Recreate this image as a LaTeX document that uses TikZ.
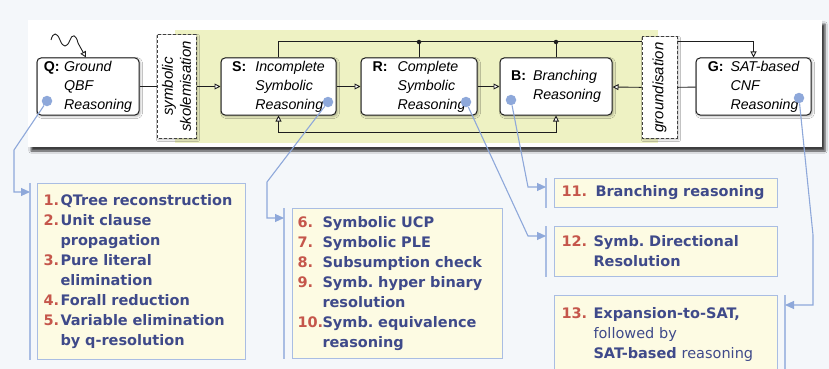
\documentclass[tikz,border=0pt]{standalone}
\usepackage{fontspec}
\setmainfont{Liberation Sans}
\newfontfamily\listfont{DejaVu Sans}
\usepackage{array}
\usepackage{xcolor}
\usepackage{tikz}
\usetikzlibrary{arrows.meta,backgrounds,calc,positioning,shadows.blur}
\definecolor{pagebg}{HTML}{F4F7FA}
\definecolor{zonegreen}{HTML}{EEF2C3}
\definecolor{hint}{HTML}{8EA8DA}
\definecolor{noteback}{HTML}{FDFBE3}
\definecolor{noteline}{HTML}{A9BDE3}
\definecolor{numred}{HTML}{C5564B}
\definecolor{notetext}{HTML}{3F4A8A}
\definecolor{ink}{HTML}{1E1E1E}
\frenchspacing
\newcommand{\numlbl}[2][17pt]{\makebox[#1][l]{\color{numred}#2}}
\newcommand{\stagelbl}[3]{\raisebox{-2pt}{\begin{tabular}{@{}l@{\hspace{#2}}>{\itshape}l@{}}\textbf{#1:}&#3\end{tabular}}}
\tikzset{
  opentip/.style={-{Triangle[length=6pt,width=6pt,fill=white]}},
  flow/.style={draw=ink,line width=0.9pt},
  panel/.style={fill=white,minimum width=794pt,minimum height=127pt,inner sep=0pt,
                blur shadow={shadow xshift=3pt,shadow yshift=-4pt,shadow opacity=75,shadow blur steps=4}},
  zone/.style={fill=zonegreen,minimum width=483pt,minimum height=113pt,inner sep=0pt},
  stage/.style={draw=ink,line width=1pt,rounded corners=4pt,fill=white,minimum height=57pt,
                inner sep=0pt,font=\fontsize{14.2}{19}\selectfont,
                blur shadow={shadow xshift=1.5pt,shadow yshift=-1.5pt,shadow opacity=30,shadow blur steps=3}},
  cutbox/.style={draw=ink!85,line width=1pt,dash pattern=on 3pt off 2pt,fill=white,inner sep=0pt,
                 align=center,font=\fontsize{15}{18}\selectfont\itshape,rotate=90,
                 blur shadow={shadow xshift=1.5pt,shadow yshift=-1.5pt,shadow opacity=30,shadow blur steps=3}},
  junction/.style={circle,fill=ink,minimum size=4.5pt,inner sep=0pt},
  hintdot/.style={circle,fill=hint,minimum size=10.5pt,inner sep=0pt},
  hintflow/.style={draw=hint,line width=1.1pt,-{Triangle[length=9pt,width=8pt]}},
  bar/.style={draw=noteline,line width=1.1pt},
  note/.style={draw=noteline,line width=1pt,fill=noteback,anchor=north west,align=left,
               text=notetext,font=\listfont\bfseries\fontsize{14.5}{20}\selectfont}
}
\begin{document}
\begin{tikzpicture}[x=1pt,y=-1pt]
  \useasboundingbox (0,0) rectangle (829,369);
  \clip (0,0) rectangle (829,369);
  \fill[pagebg] (0,0) rectangle (829,369);
  % top panel
  \node[panel] (top) at (425,83.5) {};
  \node[zone] (zone) at (416.5,86.5) {};
  % reasoning stages
  \node[stage,minimum width=102pt] (Q) at (88,86.5) {\stagelbl{Q}{4.5pt}{Ground\\&QBF\\&Reasoning}};
  \node[stage,minimum width=115pt] (S) at (278.5,86.5) {\stagelbl{S}{9pt}{Incomplete\\&Symbolic\\&Reasoning}};
  \node[stage,minimum width=116pt] (R) at (419,86.5) {\stagelbl{R}{10pt}{Complete\\&Symbolic\\&Reasoning}};
  \node[stage,minimum width=112pt] (B) at (556,86.5) {\stagelbl{B}{7pt}{Branching\\&Reasoning}};
  \node[stage,minimum width=115pt] (G) at (753.5,86.5) {\stagelbl{G}{7pt}{SAT-based\\&CNF\\&Reasoning}};
  \node[junction] (jr) at (419,42) {};
  \node[junction] (jb) at (556,42) {};
  \coordinate (wig) at (51,40);

  \draw[flow,opentip] (S.north) -- ++(0,-16) -| (G.north);
  \draw[flow] (R.north) -- (jr);
  \draw[flow] (B.north) -- (jb);
  \draw[flow,{Triangle[length=6pt,width=6pt,fill=white]}-{Triangle[length=6pt,width=6pt,fill=white]}]
    (S.south) -- ++(0,17) -| (B.south);
  \draw[flow,opentip] (S) -- (R);
  \draw[flow,opentip] (R) -- (B);
  \draw[flow,opentip] (wig) .. controls (53,32) and (57,32) .. (60,40)
    .. controls (63,48) and (67,48) .. (70,40) .. controls (72,34) and (76,34) .. (78,43) -- ([xshift=-2pt]Q.north);

  \node[cutbox,minimum width=103pt,minimum height=39pt] (skol) at (176.5,86.5) {symbolic\\skolemisation};
  \node[cutbox,minimum width=101pt,minimum height=35pt] (grd) at (659.5,87.5) {groundisation};
  \draw[flow] (Q) -- (skol);
  \draw[flow,opentip] (skol) -- (S);
  \draw[flow] (G) -- (grd);
  \draw[flow,opentip] (grd) -- (B);

  % technique lists
  \node[note,minimum width=208pt,minimum height=176pt,text width=196pt,inner xsep=6pt] (l1) at (37,183) {%
    \numlbl{1.}QTree reconstruction\\
    \numlbl{2.}Unit clause\\
    \hspace*{17pt}propagation\\
    \numlbl{3.}Pure literal\\
    \hspace*{17pt}elimination\\
    \numlbl{4.}Forall reduction\\
    \numlbl{5.}Variable elimination\\
    \hspace*{17pt}by q-resolution};
  \node[note,minimum width=210pt,minimum height=150pt,text width=200pt,inner xsep=5pt] (l2) at (292,208) {%
    \numlbl[25pt]{6.}Symbolic UCP\\
    \numlbl[25pt]{7.}Symbolic PLE\\
    \numlbl[25pt]{8.}Subsumption check\\
    \numlbl[25pt]{9.}Symb. hyper binary\\
    \hspace*{25pt}resolution\\
    \numlbl[25pt]{10.}Symb. equivalence\\
    \hspace*{25pt}reasoning};
  \node[note,minimum width=223pt,minimum height=29pt,text width=209pt,inner xsep=7pt] (l11) at (554,178) {%
    \numlbl[34pt]{11.}Branching reasoning};
  \node[note,minimum width=223pt,minimum height=50pt,text width=209pt,inner xsep=7pt] (l12) at (554,226) {%
    \numlbl[32pt]{12.}Symb. Directional\\
    \hspace*{32pt}Resolution};
  \node[note,minimum width=223pt,minimum height=77pt,text width=209pt,inner xsep=7pt] (l13) at (554,295) {%
    \numlbl[32pt]{13.}Expansion-to-SAT,\\
    \hspace*{32pt}{\mdseries followed by}\\
    \hspace*{32pt}SAT-based {\mdseries reasoning}};

  \draw[bar] ($(l1.north west)+(-7,0)$) -- ($(l1.south west)+(-7,0)$);
  \draw[bar] ($(l2.north west)+(-8,0)$) -- ($(l2.south west)+(-8,0)$);
  \draw[bar] ($(l11.north west)+(-8,0)$) -- ($(l11.south west)+(-8,0)$);
  \draw[bar] ($(l12.north west)+(-8,0)$) -- ($(l12.south west)+(-8,0)$);
  \draw[bar] ($(l13.north east)+(7,0)$) -- ($(l13.south east)+(7,0)$);
  \coordinate (in1) at ($(l1.north west)+(-7,9)$);
  \coordinate (in2) at ($(l2.north west)+(-8,10)$);
  \coordinate (in11) at ($(l11.north west)+(-8,9)$);
  \coordinate (in12) at ($(l12.north west)+(-8,10)$);
  \coordinate (in13) at ($(l13.north east)+(7,10)$);

  % hints from stages to lists
  \node[hintdot] (dq) at (47,101) {};
  \node[hintdot] (ds) at (328,102) {};
  \node[hintdot] (dr) at (466,102) {};
  \node[hintdot] (db) at (511,100) {};
  \node[hintdot] (dg) at (799,98) {};
  \draw[hintflow] (dq) -- (14,150) |- (in1);
  \draw[hintflow] (ds) -- (267,182) |- (in2);
  \draw[hintflow] (db) -- (528,187) -- (in11);
  \draw[hintflow] (dr) -- (528,236) -- (in12);
  \draw[hintflow] (dg) -- (813,235) |- (in13);
\end{tikzpicture}
\end{document}
